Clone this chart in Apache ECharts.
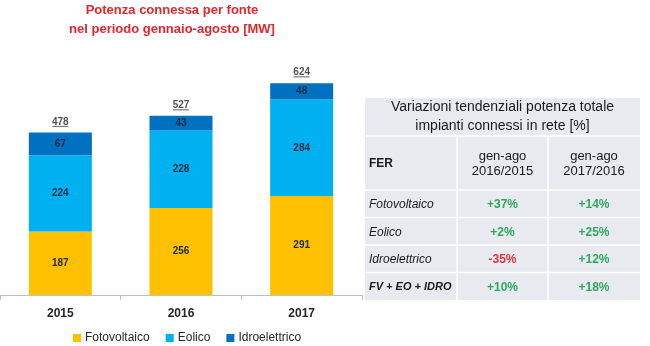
<!DOCTYPE html>
<html>
<head>
<meta charset="utf-8">
<script src="https://cdn.jsdelivr.net/npm/echarts@6/dist/echarts.min.js"></script>
<style>
html,body{margin:0;padding:0;background:#fff;}
#chart{width:650px;height:346px;}
</style>
</head>
<body>
<div id="chart"></div>
<script>
// ---- data ----
var years = ['2015', '2016', '2017'];
var fotovoltaico = [187, 256, 291];
var eolico = [224, 228, 284];
var idroelettrico = [67, 43, 48];
var totals = [478, 527, 624];

var tableTitle = ['Variazioni tendenziali potenza totale', 'impianti connessi in rete [%]'];
var tableHeaders = ['FER', 'gen-ago\n2016/2015', 'gen-ago\n2017/2016'];
var tableRows = ['Fotovoltaico', 'Eolico', 'Idroelettrico', 'FV + EO + IDRO'];
var var2016vs2015 = [37, 2, -35, 10];
var var2017vs2016 = [14, 25, 12, 18];

// ---- styles ----
var FONT = '"Liberation Sans", Arial, sans-serif';
var C_FV = '#FFC000', C_EO = '#00B0F0', C_ID = '#0070C0';
var C_LABEL = '#1b2a47';
var GREEN = '#2fa85f', RED = '#e0333a';

function fmtPct(v) { return (v > 0 ? '+' : '') + v + '%'; }

// ---- table via graphic ----
var colX = [365, 457, 548, 640];
var rowY = [98, 136, 190, 217.5, 245, 272.5, 300];
var g = [];
g.push({type: 'rect', shape: {x: colX[0], y: rowY[0], width: colX[3] - colX[0], height: rowY[6] - rowY[0]}, style: {fill: '#E8EAF0'}, z: 1});
for (var r = 1; r < rowY.length - 1; r++) {
  g.push({type: 'line', shape: {x1: colX[0], y1: rowY[r], x2: colX[3], y2: rowY[r]}, style: {stroke: '#ffffff', lineWidth: 1.5}, z: 2});
}
for (var c = 1; c < 3; c++) {
  g.push({type: 'line', shape: {x1: colX[c], y1: rowY[1], x2: colX[c], y2: rowY[6]}, style: {stroke: '#ffffff', lineWidth: 1.5}, z: 2});
}
g.push({type: 'text', x: (colX[0] + colX[3]) / 2, y: (rowY[0] + rowY[1]) / 2, z: 3,
  style: {text: tableTitle.join('\n'), fill: '#1a1a1a', font: 'normal 14px ' + FONT, align: 'center', verticalAlign: 'middle', lineHeight: 19}});
g.push({type: 'text', x: colX[0] + 4, y: (rowY[1] + rowY[2]) / 2 + 1, z: 3,
  style: {text: tableHeaders[0], fill: '#1a1a1a', font: 'bold 12px ' + FONT, align: 'left', verticalAlign: 'middle'}});
for (var c2 = 1; c2 < 3; c2++) {
  g.push({type: 'text', x: (colX[c2] + colX[c2 + 1]) / 2, y: (rowY[1] + rowY[2]) / 2 + 1, z: 3,
    style: {text: tableHeaders[c2], fill: '#1a1a1a', font: 'normal 13px ' + FONT, align: 'center', verticalAlign: 'middle', lineHeight: 15}});
}
for (var i = 0; i < tableRows.length; i++) {
  var yc = (rowY[i + 2] + rowY[i + 3]) / 2 + 1;
  var last = i === tableRows.length - 1;
  g.push({type: 'text', x: colX[0] + 4, y: yc, z: 3,
    style: {text: tableRows[i], fill: '#1a1a1a', font: 'italic ' + (last ? 'bold 11px ' : 'normal 12px ') + FONT, align: 'left', verticalAlign: 'middle'}});
  [var2016vs2015[i], var2017vs2016[i]].forEach(function (v, k) {
    g.push({type: 'text', x: (colX[k + 1] + colX[k + 2]) / 2, y: yc, z: 3,
      style: {text: fmtPct(v), fill: v < 0 ? RED : GREEN, font: 'bold 12px ' + FONT, align: 'center', verticalAlign: 'middle'}});
  });
}

var chart = echarts.init(document.getElementById('chart'));
var barLabel = {show: true, position: 'inside', color: C_LABEL, fontSize: 10, fontWeight: 'bold', fontFamily: FONT};
chart.setOption({
  animation: false,
  backgroundColor: '#ffffff',
  title: {
    text: 'Potenza connessa per fonte\nnel periodo gennaio-agosto [MW]',
    left: 172, top: 1, padding: 0, textAlign: 'center',
    textStyle: {color: '#E3262B', fontSize: 13, fontWeight: 'bold', fontFamily: FONT, lineHeight: 19}
  },
  legend: {
    data: ['Fotovoltaico', 'Eolico', 'Idroelettrico'],
    left: 68, top: 327, itemWidth: 8, itemHeight: 8, itemGap: 16,
    icon: 'rect',
    textStyle: {color: '#262626', fontSize: 12, fontFamily: FONT, padding: [0, 0, 0, -1]}
  },
  grid: {left: 0, right: 288, top: 57, bottom: 51, containLabel: false},
  xAxis: {
    type: 'category', data: years,
    axisLine: {lineStyle: {color: '#BFBFBF'}},
    axisTick: {show: true, length: 5, lineStyle: {color: '#BFBFBF'}},
    axisLabel: {color: '#262626', fontSize: 12, fontWeight: 'bold', fontFamily: FONT, margin: 13}
  },
  yAxis: {type: 'value', min: 0, max: 700, show: false, splitLine: {show: false}},
  graphic: g,
  series: [
    {name: 'Fotovoltaico', type: 'bar', stack: 'tot', data: fotovoltaico, barWidth: 63, itemStyle: {color: C_FV}, label: barLabel},
    {name: 'Eolico', type: 'bar', stack: 'tot', data: eolico, barWidth: 63, itemStyle: {color: C_EO}, label: barLabel},
    {name: 'Idroelettrico', type: 'bar', stack: 'tot', data: idroelettrico, barWidth: 63, itemStyle: {color: C_ID}, label: barLabel},
    {name: 'Totale', type: 'scatter', data: totals, symbol: 'rect', symbolSize: [16, 1.2], symbolOffset: [0, -6],
      itemStyle: {color: '#595959'}, z: 5, silent: true,
      label: {show: true, position: 'top', distance: -1, color: '#262626', fontSize: 10, fontWeight: 'bold', fontFamily: FONT,
        formatter: function (p) { return p.value; }}}
  ]
});
</script>
</body>
</html>
